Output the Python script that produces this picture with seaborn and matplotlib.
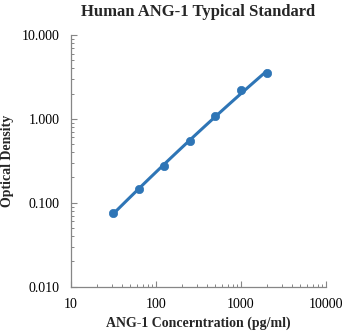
import numpy as np
import pandas as pd
import matplotlib
matplotlib.use("Agg")
import matplotlib.pyplot as plt
import matplotlib.ticker as mticker
import seaborn as sns

# Standard curve: concentration (pg/ml) vs optical density
concentration = [31.25, 62.5, 125, 250, 500, 1000, 2000]
optical_density = [0.075, 0.146, 0.272, 0.548, 1.08, 2.20, 3.48]

x_tick_values = [10, 100, 1000, 10000]
x_tick_labels = ["10", "100", "1000", "10000"]
y_tick_values = [0.01, 0.1, 1, 10]
y_tick_labels = ["0.010", "0.100", "1.000", "10.000"]

df = pd.DataFrame({"conc": concentration, "od": optical_density})

# smooth trend curve fitted in log-log space
lx = np.log10(df["conc"])
ly = np.log10(df["od"])
coef = np.polyfit(lx, ly, 2)
xs = np.linspace(lx.min(), lx.max(), 100)
trend = pd.DataFrame({"conc": 10 ** xs, "od": 10 ** np.polyval(coef, xs)})

sns.set_style("white")
plt.rcParams["font.family"] = ["Liberation Serif", "DejaVu Serif"]

blue = "#2E75B6"
fig = plt.figure(figsize=(3.44, 3.33), dpi=100)
ax = fig.add_axes([71 / 344, 1 - 286.5 / 333, (326 - 71) / 344, (286.5 - 35) / 333])

sns.lineplot(data=trend, x="conc", y="od", ax=ax, color=blue, linewidth=2.2)
sns.scatterplot(data=df, x="conc", y="od", ax=ax, color=blue, s=36,
                edgecolor=blue, linewidth=0.5, zorder=3)

ax.set_xscale("log")
ax.set_yscale("log")
ax.set_xlim(10, 10000)
ax.set_ylim(0.01, 10)
ax.set_xticks(x_tick_values)
ax.set_xticklabels(x_tick_labels)
ax.set_yticks(y_tick_values)
ax.set_yticklabels(y_tick_labels)
ax.xaxis.set_minor_locator(mticker.LogLocator(base=10, subs=np.arange(2, 10)))
ax.yaxis.set_minor_locator(mticker.LogLocator(base=10, subs=np.arange(2, 10)))
ax.xaxis.set_minor_formatter(mticker.NullFormatter())
ax.yaxis.set_minor_formatter(mticker.NullFormatter())

for side in ["top", "right"]:
    ax.spines[side].set_visible(False)
for side in ["left", "bottom"]:
    ax.spines[side].set_color("#868686")
    ax.spines[side].set_linewidth(0.9)

ax.tick_params(axis="both", which="major", direction="in", length=4, width=0.8,
               color="#868686", labelsize=10, labelcolor="black", pad=8)
ax.tick_params(axis="both", which="minor", direction="in", length=2.5, width=0.7,
               color="#868686")
ax.tick_params(axis="x", which="both", bottom=True)
ax.tick_params(axis="y", which="both", left=True)

ax.set_xlabel("ANG-1 Concerntration (pg/ml)", fontsize=10, fontweight="bold", labelpad=4)
ax.set_ylabel("Optical Density", fontsize=10, fontweight="bold", labelpad=6)
ax.set_title("Human ANG-1 Typical Standard", fontsize=12, fontweight="bold", pad=14)

fig.savefig("out.png", dpi=100)
